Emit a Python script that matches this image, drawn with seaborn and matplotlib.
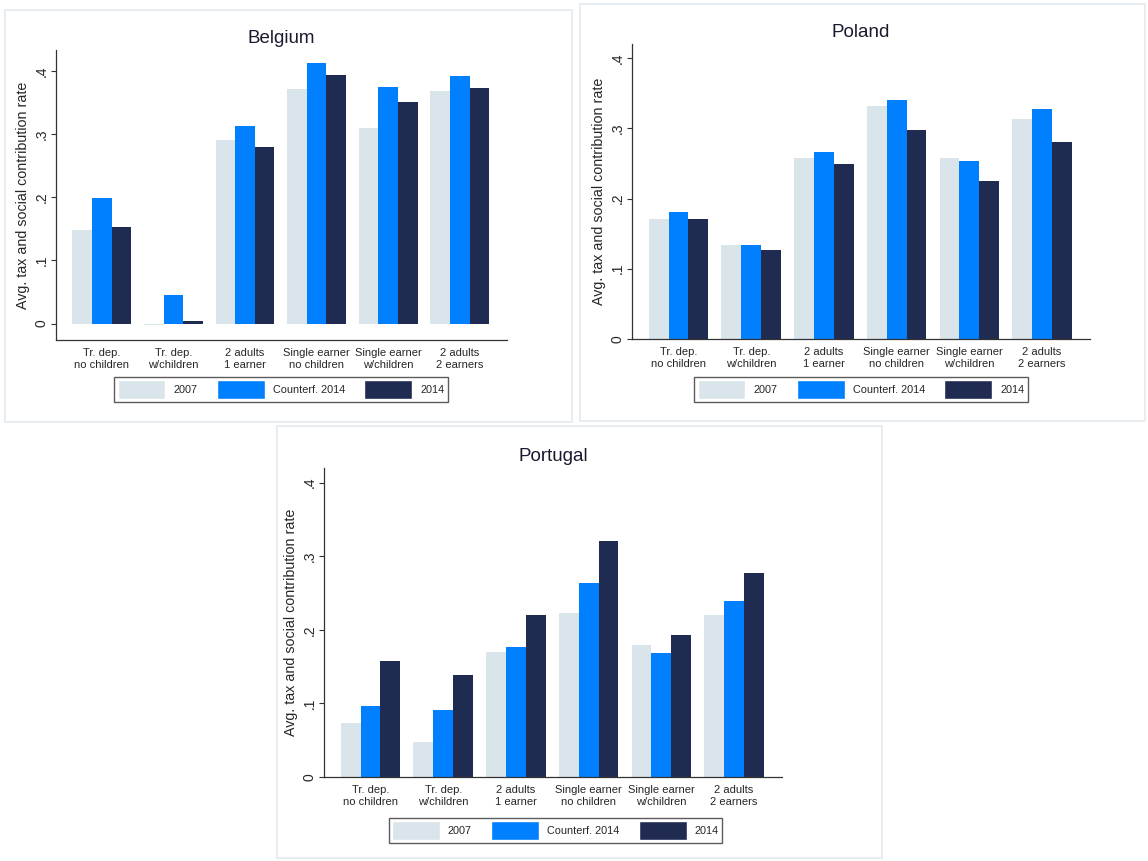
import matplotlib
matplotlib.use('Agg')
import matplotlib.pyplot as plt
from matplotlib.patches import Patch, Rectangle
import pandas as pd
import seaborn as sns

# Household types and series
households = ['Tr. dep.\nno children', 'Tr. dep.\nw/children', '2 adults\n1 earner',
              'Single earner\nno children', 'Single earner\nw/children', '2 adults\n2 earners']
series = ['2007', 'Counterf. 2014', '2014']
colors = ['#d9e4eb', '#0080ff', '#1f2b50']
yticks = [0, 0.1, 0.2, 0.3, 0.4]
ytick_labels = ['0', '.1', '.2', '.3', '.4']

# Values
belgium_2007 = [0.148, -0.003, 0.291, 0.372, 0.310, 0.368]
belgium_cf = [0.198, 0.046, 0.313, 0.412, 0.375, 0.392]
belgium_2014 = [0.153, 0.004, 0.280, 0.393, 0.350, 0.373]

poland_2007 = [0.171, 0.134, 0.258, 0.332, 0.258, 0.313]
poland_cf = [0.181, 0.134, 0.266, 0.340, 0.254, 0.327]
poland_2014 = [0.171, 0.127, 0.249, 0.297, 0.225, 0.281]

portugal_2007 = [0.073, 0.047, 0.170, 0.223, 0.180, 0.220]
portugal_cf = [0.097, 0.091, 0.177, 0.264, 0.169, 0.239]
portugal_2014 = [0.157, 0.138, 0.220, 0.321, 0.193, 0.277]

sns.set_theme(style='white')
plt.rcParams['font.family'] = ['Liberation Sans', 'DejaVu Sans']

W, H = 1148, 861
fig = plt.figure(figsize=(W / 100, H / 100), dpi=100)


def px_box(x0, y0, x1, y1):
    # pixel box (top-left origin) -> figure fraction rect
    return [x0 / W, 1 - y1 / H, (x1 - x0) / W, (y1 - y0) / H]


panels = [
    ('Belgium', [belgium_2007, belgium_cf, belgium_2014], (56, 50, 507, 340), (-0.026, 0.433),
     (5, 10, 572, 422), (281, 389.5)),
    ('Poland', [poland_2007, poland_cf, poland_2014], (632, 44, 1090, 339), (0, 0.42),
     (580, 4, 1145, 421), (861, 389.5)),
    ('Portugal', [portugal_2007, portugal_cf, portugal_2014], (324, 468, 782, 777), (0, 0.42),
     (277, 426, 882, 858), (555.5, 830.5)),
]

for name, vals, box, ylim, frame, leg_xy in panels:
    # light panel frame
    x0, y0, x1, y1 = frame
    fig.patches.append(Rectangle((x0 / W, 1 - y1 / H), (x1 - x0) / W, (y1 - y0) / H,
                                 transform=fig.transFigure, fill=False,
                                 edgecolor='#e3eaee', linewidth=1.2))

    df = pd.DataFrame({
        'household': households * 3,
        'series': [s for s in series for _ in households],
        'rate': vals[0] + vals[1] + vals[2],
    })

    ax = fig.add_axes(px_box(*box))
    sns.barplot(data=df, x='household', y='rate', hue='series', order=households,
                hue_order=series, palette=colors, saturation=1, width=0.82,
                linewidth=0, legend=False, ax=ax)

    ax.set_xlim(-0.64, 5.66)
    ax.set_ylim(*ylim)
    ax.set_yticks(yticks)
    ax.set_yticklabels(ytick_labels, rotation=90, va='center', fontsize=10)
    ax.tick_params(axis='y', length=3.5, width=0.8, color='#333333', pad=2, left=True)
    ax.tick_params(axis='x', length=0, labelsize=8, pad=6)
    ax.set_xlabel('')
    ax.set_ylabel('Avg. tax and social contribution rate', fontsize=10.3, labelpad=3)
    ax.set_title(name, fontsize=13.5, color='#1a1a2e', pad=5)
    for s in ['top', 'right']:
        ax.spines[s].set_visible(False)
    for s in ['left', 'bottom']:
        ax.spines[s].set_color('#333333')
        ax.spines[s].set_linewidth(0.9)

    handles = [Patch(facecolor=c, label=l) for c, l in zip(colors, series)]
    leg = ax.legend(handles=handles, ncol=3, loc='center',
                    bbox_to_anchor=(leg_xy[0] / W, 1 - leg_xy[1] / H),
                    bbox_transform=fig.transFigure, fontsize=7.8,
                    handlelength=4.4, handleheight=2.3, handletextpad=0.75,
                    columnspacing=1.8, fancybox=False, frameon=True,
                    borderpad=0.3)
    leg.get_frame().set_edgecolor('#333333')
    leg.get_frame().set_linewidth(1.0)

fig.savefig('out.png', dpi=100)
